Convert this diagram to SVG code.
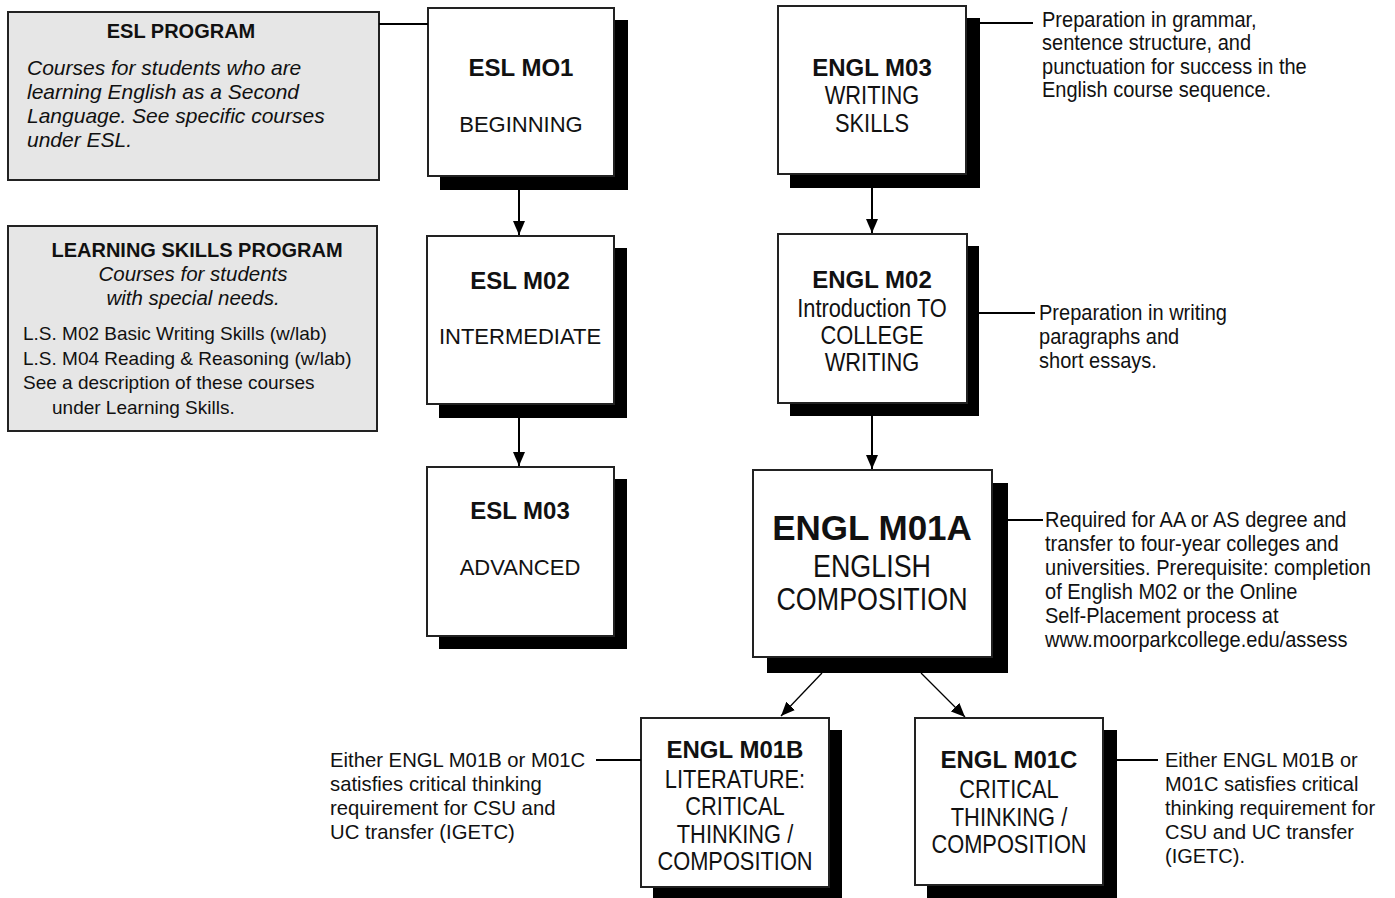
<svg xmlns="http://www.w3.org/2000/svg" width="1395" height="898" viewBox="0 0 1395 898">
<defs>
<marker id="ah" viewBox="0 0 14 12" refX="14" refY="6" markerWidth="14" markerHeight="12" markerUnits="userSpaceOnUse" orient="auto"><path d="M0,0 L14,6 L0,12 z" fill="#000"/></marker>
</defs>
<style>
text{font-family:"Liberation Sans",Arial,Helvetica,sans-serif;fill:#111}
.prog{fill:#e6e6e6;stroke:#222;stroke-width:2}
.box{fill:#fff;stroke:#222;stroke-width:2}
.sh{fill:#000}
.t{font-weight:bold;font-size:24px;text-anchor:middle}
.s{font-size:22px;text-anchor:middle}
.c{font-size:26px;text-anchor:middle}
.cb{font-size:32px;text-anchor:middle}
.d{font-size:20px}
.dn{font-size:22.5px}
.h{font-weight:bold;font-size:20px;text-anchor:middle}
.i{font-style:italic;font-size:21px}
.ic{font-style:italic;font-size:20.5px;text-anchor:middle}
.r{font-size:19px}
.ln{stroke:#000;stroke-width:2;fill:none}
.ar{stroke:#000;stroke-width:2;fill:none;marker-end:url(#ah)}
.dg{stroke:#000;stroke-width:1.3;fill:none;marker-end:url(#ah)}
</style>
<rect x="0" y="0" width="1395" height="898" fill="#fff"/>

<g id="esl-program">
<rect class="prog" x="8" y="12" width="371" height="168"/>
<text class="h" x="181" y="38">ESL PROGRAM</text>
<text class="i" x="27" y="75">Courses for students who are</text>
<text class="i" x="27" y="99">learning English as a Second</text>
<text class="i" x="27" y="123">Language. See specific courses</text>
<text class="i" x="27" y="147">under ESL.</text>
</g>

<g id="learning-skills">
<rect class="prog" x="8" y="226" width="369" height="205"/>
<text class="h" x="197" y="257">LEARNING SKILLS PROGRAM</text>
<text class="ic" x="193" y="281">Courses for students</text>
<text class="ic" x="193" y="305">with special needs.</text>
<text class="r" x="23" y="340">L.S. M02 Basic Writing Skills (w/lab)</text>
<text class="r" x="23" y="365">L.S. M04 Reading &amp; Reasoning (w/lab)</text>
<text class="r" x="23" y="389">See a description of these courses</text>
<text class="r" x="52" y="414">under Learning Skills.</text>
</g>

<g id="esl-m01">
<rect class="sh" x="440" y="20" width="188" height="170"/>
<rect class="box" x="428" y="8" width="186" height="168"/>
<text class="t" x="521" y="76">ESL MO1</text>
<text class="s" x="521" y="132">BEGINNING</text>
</g>

<g id="esl-m02">
<rect class="sh" x="439" y="248" width="188" height="170"/>
<rect class="box" x="427" y="236" width="187" height="168"/>
<text class="t" x="520" y="289">ESL M02</text>
<text class="s" x="520" y="344">INTERMEDIATE</text>
</g>

<g id="esl-m03">
<rect class="sh" x="439" y="479" width="188" height="170"/>
<rect class="box" x="427" y="467" width="187" height="169"/>
<text class="t" x="520" y="519">ESL M03</text>
<text class="s" x="520" y="575">ADVANCED</text>
</g>

<g id="engl-m03">
<rect class="sh" x="790" y="18" width="190" height="170"/>
<rect class="box" x="778" y="6" width="188" height="168"/>
<text class="t" x="872" y="76">ENGL M03</text>
<text class="c" transform="translate(872,104) scale(0.84,1)">WRITING</text>
<text class="c" transform="translate(872,132) scale(0.84,1)">SKILLS</text>
</g>

<g id="engl-m02">
<rect class="sh" x="790" y="246" width="189" height="170"/>
<rect class="box" x="778" y="234" width="189" height="169"/>
<text class="t" x="872" y="288">ENGL M02</text>
<text class="c" transform="translate(872,317) scale(0.84,1)">Introduction TO</text>
<text class="c" transform="translate(872,344) scale(0.84,1)">COLLEGE</text>
<text class="c" transform="translate(872,371) scale(0.84,1)">WRITING</text>
</g>

<g id="engl-m01a">
<rect class="sh" x="767" y="483" width="241" height="190"/>
<rect class="box" x="753" y="470" width="239" height="187"/>
<text class="t" x="872" y="540" style="font-size:35px">ENGL M01A</text>
<text class="cb" transform="translate(872,577) scale(0.84,1)">ENGLISH</text>
<text class="cb" transform="translate(872,610) scale(0.84,1)">COMPOSITION</text>
</g>

<g id="engl-m01b">
<rect class="sh" x="653" y="730" width="189" height="170"/>
<rect class="box" x="641" y="718" width="188" height="169"/>
<text class="t" x="735" y="758">ENGL M01B</text>
<text class="c" transform="translate(735,788) scale(0.84,1)">LITERATURE:</text>
<text class="c" transform="translate(735,815) scale(0.84,1)">CRITICAL</text>
<text class="c" transform="translate(735,843) scale(0.84,1)">THINKING /</text>
<text class="c" transform="translate(735,870) scale(0.84,1)">COMPOSITION</text>
</g>

<g id="engl-m01c">
<rect class="sh" x="927" y="730" width="190" height="168"/>
<rect class="box" x="915" y="718" width="188" height="167"/>
<text class="t" x="1009" y="768">ENGL M01C</text>
<text class="c" transform="translate(1009,798) scale(0.84,1)">CRITICAL</text>
<text class="c" transform="translate(1009,826) scale(0.84,1)">THINKING /</text>
<text class="c" transform="translate(1009,853) scale(0.84,1)">COMPOSITION</text>
</g>

<g id="note-m03" transform="translate(1042,0) scale(0.89,1)">
<text class="dn" x="0" y="27">Preparation in grammar,</text>
<text class="dn" x="0" y="50.5">sentence structure, and</text>
<text class="dn" x="0" y="74">punctuation for success in the</text>
<text class="dn" x="0" y="97.5">English course sequence.</text>
</g>

<g id="note-m02" transform="translate(1039,0) scale(0.89,1)">
<text class="dn" x="0" y="320">Preparation in writing</text>
<text class="dn" x="0" y="344">paragraphs and</text>
<text class="dn" x="0" y="368">short essays.</text>
</g>

<g id="note-m01a" transform="translate(1045,0) scale(0.89,1)">
<text class="dn" x="0" y="527">Required for AA or AS degree and</text>
<text class="dn" x="0" y="551">transfer to four-year colleges and</text>
<text class="dn" x="0" y="575">universities. Prerequisite: completion</text>
<text class="dn" x="0" y="599">of English M02 or the Online</text>
<text class="dn" x="0" y="623">Self-Placement process at</text>
<text class="dn" x="0" y="647">www.moorparkcollege.edu/assess</text>
</g>

<g id="note-m01b">
<text class="d" x="330" y="767" style="font-size:20.3px">Either ENGL M01B or M01C</text>
<text class="d" x="330" y="791" style="font-size:20.3px">satisfies critical thinking</text>
<text class="d" x="330" y="815" style="font-size:20.3px">requirement for CSU and</text>
<text class="d" x="330" y="839" style="font-size:20.3px">UC transfer (IGETC)</text>
</g>

<g id="note-m01c">
<text class="d" x="1165" y="767">Either ENGL M01B or</text>
<text class="d" x="1165" y="791">M01C satisfies critical</text>
<text class="d" x="1165" y="815">thinking requirement for</text>
<text class="d" x="1165" y="839">CSU and UC transfer</text>
<text class="d" x="1165" y="863">(IGETC).</text>
</g>

<g id="connectors">
<line class="ln" x1="379" y1="24" x2="428" y2="24"/>
<line class="ln" x1="980" y1="23" x2="1033" y2="23"/>
<line class="ln" x1="979" y1="313" x2="1035" y2="313"/>
<line class="ln" x1="1008" y1="520" x2="1043" y2="520"/>
<line class="ln" x1="596" y1="760" x2="641" y2="760"/>
<line class="ln" x1="1117" y1="760" x2="1158" y2="760"/>
<line class="ar" x1="519" y1="190" x2="519" y2="235"/>
<line class="ar" x1="519" y1="418" x2="519" y2="466"/>
<line class="ar" x1="872" y1="188" x2="872" y2="233"/>
<line class="ar" x1="872" y1="416" x2="872" y2="469"/>
<line class="dg" x1="822" y1="673" x2="781" y2="716"/>
<line class="dg" x1="921" y1="673" x2="965" y2="717"/>
</g>
</svg>
